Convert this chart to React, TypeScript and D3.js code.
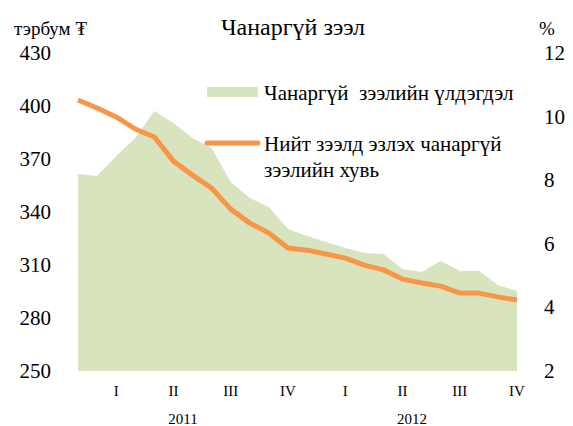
import { useEffect, useRef } from "react";
import * as d3 from "d3";

// monthly data, Jan 2011 .. Dec 2012
const balance = [
  361.5, 360.4, 371.7, 381.9, 397.2, 390.4, 381.9, 376.2, 357.0, 347.9, 342.8, 330.4,
  326.4, 323.0, 319.6, 316.8, 316.2, 307.7, 306.0, 312.3, 306.6, 306.6, 298.7, 295.3,
];
const share = [
  10.52, 10.27, 9.99, 9.61, 9.36, 8.6, 8.16, 7.75, 7.09, 6.65, 6.34, 5.87,
  5.8, 5.68, 5.55, 5.33, 5.18, 4.89, 4.77, 4.67, 4.45, 4.45, 4.33, 4.23,
];
const quarters = ["I", "II", "III", "IV", "I", "II", "III", "IV"];
const years = ["2011", "2012"];
const leftTicks = [250, 280, 310, 340, 370, 400, 430];
const rightTicks = [2, 4, 6, 8, 10, 12];

const W = 573;
const H = 426;
const FONT = "Liberation Serif, DejaVu Serif, serif";
const GREEN = "#d7e4bd";
const ORANGE = "#f79646";

const App = () => {
  const svgRef = useRef<SVGSVGElement>(null);

  useEffect(() => {
    document.body.style.margin = "0";
    const svg = d3.select(svgRef.current);
    svg.selectAll("*").remove();
    svg.attr("font-family", FONT);

    const x = d3.scaleLinear().domain([0, balance.length - 1]).range([78, 517]);
    const yL = d3.scaleLinear().domain([250, 430]).range([371, 53]);
    const yR = d3.scaleLinear().domain([2, 12]).range([371, 53]);

    // area for loan balance
    const area = d3.area<number>()
      .x((d, i) => x(i))
      .y0(yL(250))
      .y1((d) => yL(d));
    svg.append("path").datum(balance).attr("d", area).attr("fill", GREEN);

    // share line
    const line = d3.line<number>()
      .x((d, i) => x(i))
      .y((d) => yR(d));
    svg.append("path").datum(share)
      .attr("d", line)
      .attr("fill", "none")
      .attr("stroke", ORANGE)
      .attr("stroke-width", 5)
      .attr("stroke-linejoin", "round");

    // left axis labels
    svg.append("g").selectAll("text").data(leftTicks).enter().append("text")
      .attr("x", 51).attr("y", (d) => yL(d) + 7)
      .attr("text-anchor", "end")
      .attr("font-size", 21)
      .text((d) => d);

    // right axis labels
    svg.append("g").selectAll("text").data(rightTicks).enter().append("text")
      .attr("x", 544).attr("y", (d) => yR(d) + 7)
      .attr("text-anchor", "start")
      .attr("font-size", 21)
      .text((d) => d);

    // quarter labels at quarter-end months
    svg.append("g").selectAll("text").data(quarters).enter().append("text")
      .attr("x", (d, i) => x(i * 3 + 2)).attr("y", 396)
      .attr("text-anchor", "middle")
      .attr("font-size", 15)
      .text((d) => d);

    svg.append("g").selectAll("text").data(years).enter().append("text")
      .attr("x", (d, i) => x(i * 12 + 5.5)).attr("y", 424)
      .attr("text-anchor", "middle")
      .attr("font-size", 15)
      .text((d) => d);

    // title and units
    svg.append("text").attr("x", 293).attr("y", 35).attr("text-anchor", "middle")
      .attr("font-size", 24).text("Чанаргүй зээл");
    svg.append("text").attr("x", 14).attr("y", 35)
      .attr("font-size", 19).text("тэрбум ₮");
    svg.append("text").attr("x", 539).attr("y", 35)
      .attr("font-size", 19).text("%");

    // legend
    const lg = svg.append("g").attr("font-size", 21);
    lg.append("rect").attr("x", 207).attr("y", 87).attr("width", 51).attr("height", 10).attr("fill", GREEN);
    lg.append("text").attr("x", 264).attr("y", 100)
      .style("white-space", "pre")
      .text("Чанаргүй  зээлийн үлдэгдэл");
    lg.append("line").attr("x1", 207).attr("x2", 258).attr("y1", 143).attr("y2", 143)
      .attr("stroke", ORANGE).attr("stroke-width", 5).attr("stroke-linecap", "round");
    lg.append("text").attr("x", 264).attr("y", 151).text("Нийт зээлд эзлэх чанаргүй");
    lg.append("text").attr("x", 264).attr("y", 177).text("зээлийн хувь");
  }, []);

  return <svg ref={svgRef} width={W} height={H} style={{ display: "block", background: "#fff" }} />;
};

export default App;
